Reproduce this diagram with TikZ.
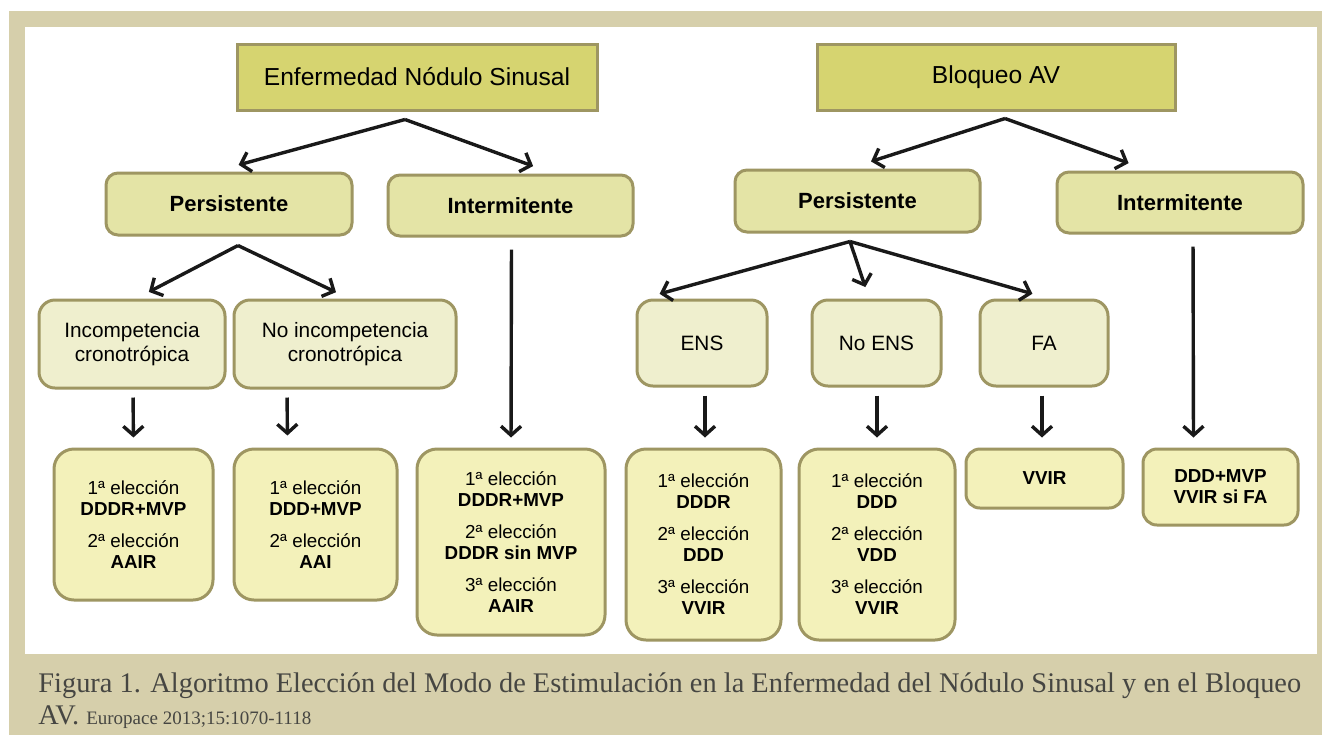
\documentclass[tikz,border=0pt]{standalone}
\usepackage{fontspec}
\setmainfont{Liberation Sans}
\newfontfamily\capfont{Liberation Serif}
\usetikzlibrary{arrows.meta}

\definecolor{frametan}{RGB}{214,207,171}
\definecolor{boxedge}{RGB}{158,150,98}
\definecolor{topfill}{RGB}{214,212,112}
\definecolor{midfill}{RGB}{228,228,166}
\definecolor{lowfill}{RGB}{239,239,206}
\definecolor{resfill}{RGB}{243,241,186}
\definecolor{captext}{RGB}{70,70,66}

\tikzset{
  topbox/.style={draw=boxedge,line width=1.5pt,fill=topfill,inner sep=0pt,font=\fontsize{12.3}{14}\selectfont},
  midbox/.style={draw=boxedge,line width=1.5pt,fill=midfill,rounded corners=6pt,inner sep=0pt,font=\bfseries\fontsize{11}{13}\selectfont},
  lowbox/.style={draw=boxedge,line width=1.5pt,fill=lowfill,rounded corners=8pt,inner sep=0pt,align=center,font=\fontsize{10.4}{12}\selectfont},
  resbox/.style={draw=boxedge,line width=1.5pt,fill=resfill,rounded corners=10pt,inner sep=0pt,align=center,font=\fontsize{9.4}{10.5}\selectfont},
  arr/.style={draw=black!90,line width=1.7pt,line join=round,-{Straight Barb[length=4.5pt,width=10pt]},shorten <=4pt,shorten >=5pt},
  fan/.style={arr,shorten <=0pt}
}

\begin{document}
\begin{tikzpicture}[x=0.5pt,y=-0.5pt]
	\useasboundingbox (0,0) rectangle (1322,735);
	\fill[frametan] (9,11) rectangle (1322,735);
	\fill[white] (25,27) rectangle (1317,654);
	% top level
	\node[topbox,minimum width=180pt,minimum height=33pt] (enf) at (417,77) {Enfermedad Nódulo Sinusal};
	\node[topbox,minimum width=179pt,minimum height=33pt] (bloq) at (996,77) {Bloqueo AV};
	% second level
	\node[midbox,minimum width=123pt,minimum height=31pt] (persL) at (229,204) {Persistente};
	\node[midbox,minimum width=122.5pt,minimum height=30.5pt] (interL) at (510.5,205.5) {Intermitente};
	\node[midbox,minimum width=122.5pt,minimum height=31pt] (persR) at (857.5,201) {Persistente};
	\node[midbox,minimum width=123pt,minimum height=30.5pt] (interR) at (1180,202.5) {Intermitente};
	% third level
	\node[lowbox,minimum width=93pt,minimum height=44pt] (incomp) at (132,344) {Incompetencia\\cronotrópica};
	\node[lowbox,minimum width=111pt,minimum height=44pt] (noinc) at (345,344) {No incompetencia\\cronotrópica};
	\node[lowbox,minimum width=65pt,minimum height=43pt] (ens) at (702,343) {ENS};
	\node[lowbox,minimum width=64.5pt,minimum height=43pt] (noens) at (876.5,343) {No ENS};
	\node[lowbox,minimum width=64pt,minimum height=43pt] (fa) at (1044,343) {FA};
	% results
	\node[resbox,minimum width=79.5pt,minimum height=75.5pt] (resA) at (133.5,524.5) {1ª elección\\\textbf{DDDR+MVP}\\[5.5pt]2ª elección\\\textbf{AAIR}};
	\node[resbox,minimum width=81.5pt,minimum height=75.5pt] (resB) at (315.5,524.5) {1ª elección\\\textbf{DDD+MVP}\\[5.5pt]2ª elección\\\textbf{AAI}};
	\node[resbox,minimum width=94pt,minimum height=93pt] (resC) at (511,542) {1ª elección\\\textbf{DDDR+MVP}\\[5.5pt]2ª elección\\\textbf{DDDR sin MVP}\\[5.5pt]3ª elección\\\textbf{AAIR}};
	\node[resbox,minimum width=77.5pt,minimum height=95.5pt] (resD) at (703.5,544.5) {1ª elección\\\textbf{DDDR}\\[5.5pt]2ª elección\\\textbf{DDD}\\[5.5pt]3ª elección\\\textbf{VVIR}};
	\node[resbox,minimum width=78pt,minimum height=95.5pt] (resE) at (877,544.5) {1ª elección\\\textbf{DDD}\\[5.5pt]2ª elección\\\textbf{VDD}\\[5.5pt]3ª elección\\\textbf{VVIR}};
	\node[resbox,minimum width=78.5pt,minimum height=29.5pt,rounded corners=7pt] (resF) at (1044.5,478.5) {\textbf{VVIR}};
	\node[resbox,minimum width=77.5pt,minimum height=38pt,rounded corners=7pt] (resG) at (1220.5,487) {\textbf{DDD+MVP}\\\textbf{VVIR si FA}};
	% arrows
	\draw[fan] ([xshift=-6pt,yshift=-4pt]enf.south) -- ([yshift=2pt]persL.north);
	\draw[fan] ([xshift=-6pt,yshift=-4pt]enf.south) -- ([xshift=16pt,yshift=2pt]interL.north);
	\draw[fan] ([xshift=4.5pt,yshift=-3.5pt]bloq.south) -- ([xshift=2pt,yshift=2pt]persR.north);
	\draw[fan] ([xshift=4.5pt,yshift=-3.5pt]bloq.south) -- ([xshift=-21pt,yshift=2pt]interR.north);
	\draw[fan] ([xshift=4.5pt,yshift=-4.5pt]persL.south) -- ([xshift=4pt,yshift=1pt]incomp.north);
	\draw[fan] ([xshift=4.5pt,yshift=-4.5pt]persL.south) -- ([yshift=1pt]noinc.north);
	\draw[fan] ([xshift=-3.75pt,yshift=-4pt]persR.south) -- ([xshift=-26pt,yshift=1pt]ens.north);
	\draw[fan] ([xshift=-3.75pt,yshift=-4pt]persR.south) -- ([xshift=-4pt,yshift=1pt]noens.north);
	\draw[fan] ([xshift=-3.75pt,yshift=-4pt]persR.south) -- ([xshift=-1pt,yshift=1pt]fa.north);
	\draw[arr,shorten <=6pt] ([xshift=0.5pt]interL.south) -- (resC.north);
	\draw[arr,shorten <=6pt] ([xshift=6.5pt]interR.south) -- ([xshift=-13.5pt]resG.north);
	\draw[arr] ([xshift=0.5pt]incomp.south) -- (resA.north);
	\draw[arr] ([xshift=-29pt]noinc.south) -- ([xshift=-14pt,yshift=1pt]resB.north);
	\draw[arr] ([xshift=1.5pt]ens.south) -- ([xshift=0.75pt]resD.north);
	\draw[arr] ([xshift=0.25pt]noens.south) -- (resE.north);
	\draw[arr] ([xshift=-1pt]fa.south) -- ([xshift=-1.25pt]resF.north);
	% caption
	\node[anchor=north west,align=left,inner sep=0pt,text=captext,font=\capfont\fontsize{14.2}{13.5}\selectfont] (caption) at (38,672) {Figura 1. Algoritmo Elección del Modo de Estimulación en la Enfermedad del Nódulo Sinusal y en el Bloqueo\\[2.5pt]AV. {\fontsize{9.5}{11}\selectfont Europace 2013;15:1070-1118}};
\end{tikzpicture}
\end{document}
